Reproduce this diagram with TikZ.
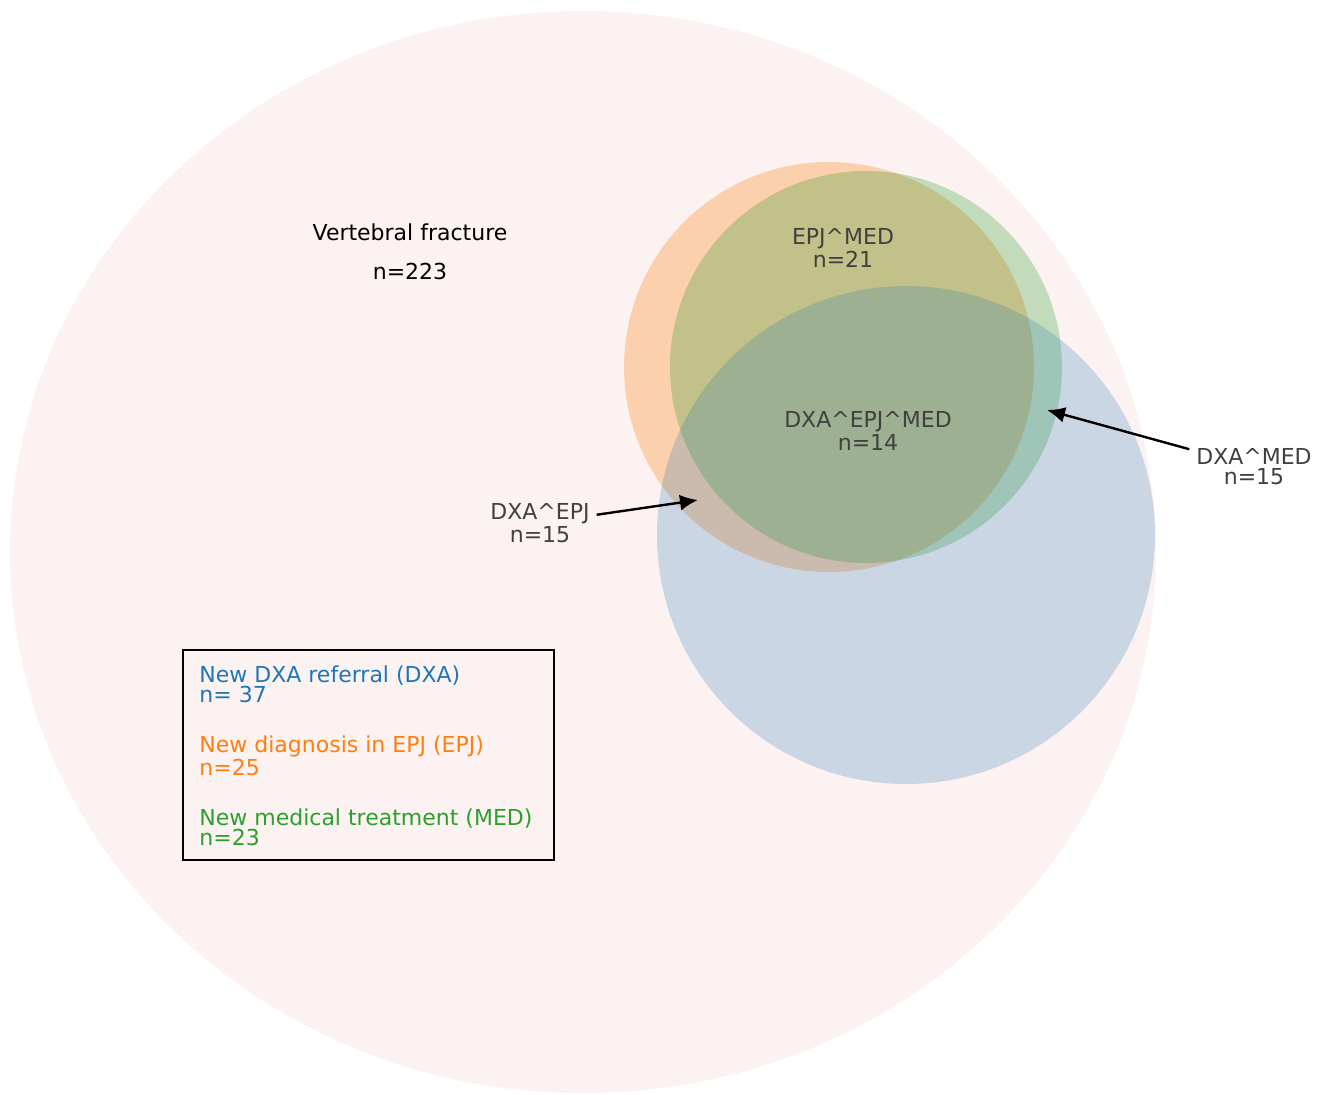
\documentclass[tikz,border=0pt]{standalone}
\usepackage{fontspec}
\setmainfont{DejaVu Sans}
\usetikzlibrary{arrows.meta}
\definecolor{bgpink}{HTML}{FCF2F2}
\definecolor{dxablue}{HTML}{1F77B4}
\definecolor{epjorange}{HTML}{FF7F0E}
\definecolor{medgreen}{HTML}{2CA02C}
\definecolor{lblgrey}{HTML}{404040}
\newcommand{\andsym}{\textasciicircum{}}
\begin{document}
\begin{tikzpicture}
  [x=0.5pt,y=-0.5pt,
   every node/.style={font=\fontsize{11}{10}\selectfont},
   setlabel/.style={align=center,text=lblgrey},
   legendtext/.style={align=left,anchor=west,inner sep=0pt},
   pointer/.style={-{Latex[length=9pt,width=8pt]},line width=1.2pt}]
  \useasboundingbox (0,0) rectangle (1324,1094);

  % outer set and the three circles
  \fill[bgpink] (583,552) ellipse [x radius=573,y radius=541];
  \fill[epjorange,fill opacity=0.30] (829,367) circle [radius=205];
  \fill[medgreen,fill opacity=0.28] (866,367) circle [radius=196];
  \fill[dxablue,fill opacity=0.22] (906,535) circle [radius=249];

  \node[align=center] (vf) at (410,252) {Vertebral fracture\\[9.5pt]n=223};
  \node[setlabel] (epjmed) at (843,248) {EPJ\andsym MED\\n=21};
  \node[setlabel] (all) at (868,431) {DXA\andsym EPJ\andsym MED\\n=14};
  \node[setlabel] (dxaepj) at (540,523) {DXA\andsym EPJ\\n=15};
  \node[setlabel] (dxamed) at (1254,467) {DXA\andsym MED\\n=15};

  \coordinate (tipepj) at (698,500);
  \coordinate (tipmed) at (1047,410);
  \draw[pointer] (dxaepj) -- (tipepj);
  \draw[pointer] (dxamed) -- (tipmed);

  % legend
  \node[draw,line width=1pt,anchor=north west,minimum width=185.5pt,minimum height=105pt] (legend) at (182,649) {};
  \foreach \name/\y/\col/\txt in {ldxa/684/dxablue/{New DXA referral (DXA)\\n= 37},
                                  lepj/756/epjorange/{New diagnosis in EPJ (EPJ)\\n=25},
                                  lmed/827/medgreen/{New medical treatment (MED)\\n=23}}
    \node[legendtext,text=\col] (\name) at (199,\y) {\txt};

\end{tikzpicture}
\end{document}
